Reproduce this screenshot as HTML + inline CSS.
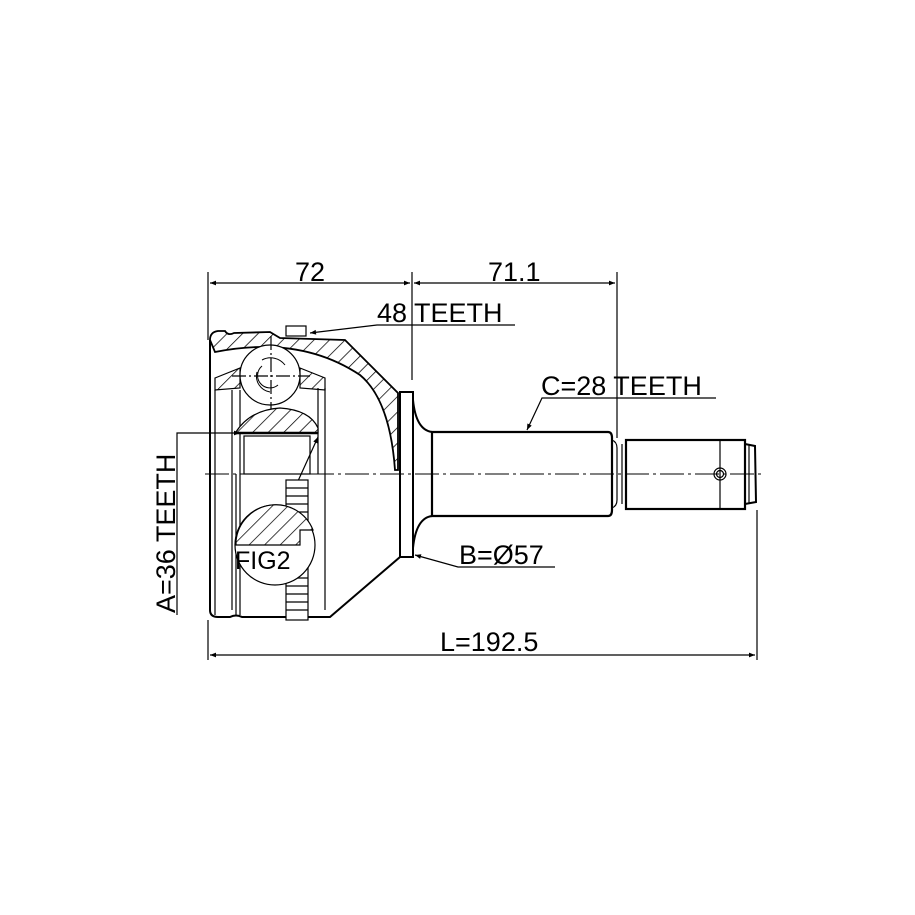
<!DOCTYPE html>
<html><head><meta charset="utf-8"><style>
html,body{margin:0;padding:0;background:#fff;}
svg{display:block;}
text{font-family:"Liberation Sans",sans-serif;fill:#000;}
</style></head><body>
<svg width="915" height="915" viewBox="0 0 915 915" xmlns="http://www.w3.org/2000/svg">
<defs>
<pattern id="h" patternUnits="userSpaceOnUse" width="11" height="11" patternTransform="rotate(45)">
<rect width="11" height="11" fill="#fff"/><line x1="0" y1="0" x2="0" y2="11" stroke="#000" stroke-width="1.5"/>
</pattern>
<marker id="a" viewBox="0 0 10 10" refX="10" refY="5" markerWidth="14" markerHeight="6" markerUnits="userSpaceOnUse" orient="auto-start-reverse"><path d="M0,1 L10,5 L0,9 z" fill="#000"/></marker>
</defs>
<g stroke="#000" fill="none" stroke-width="1.2">
<line x1="208" y1="272" x2="208" y2="340"/>
<line x1="412" y1="272" x2="412" y2="380"/>
<line x1="617" y1="272" x2="617" y2="438"/>
<line x1="210" y1="283" x2="410" y2="283" marker-start="url(#a)" marker-end="url(#a)"/>
<line x1="414" y1="283" x2="615" y2="283" marker-start="url(#a)" marker-end="url(#a)"/>
<line x1="208" y1="620" x2="208" y2="660"/>
<line x1="757" y1="510" x2="757" y2="660"/>
<line x1="210" y1="655" x2="755" y2="655" marker-start="url(#a)" marker-end="url(#a)"/>
<polyline points="515,325 377,325 310,333" marker-end="url(#a)"/>
<polyline points="716,398 542,398 527,430" marker-end="url(#a)"/>
<polyline points="555,567 458,567 415,555" marker-end="url(#a)"/>
<polyline points="177,615 177,433 240,433" marker-end="url(#a)"/>
<line x1="318" y1="437" x2="288" y2="503" marker-start="url(#a)"/>
<!-- housing hatched wall -->
<path d="M210,340 Q210,332 218,331 L225,331 Q228,336 234,333 L270,332 L280,338 L345,340 L398,393 L398,470 L395,470 Q390,400 360,375 Q300,335 215,352 Z" fill="url(#h)" stroke-width="1.8"/>
<path d="M215,378 L240,368 L240,388 L215,390 Z M300,368 L325,378 L325,390 L300,388 Z" fill="url(#h)"/>
<path d="M210,340 L210,610 Q210,617 218,617 L230,617 Q236,614 242,617 L330,617 L400,557 L400,392" stroke-width="2"/>
<rect x="400" y="392" width="13" height="165" stroke-width="2"/>
<path d="M413,400 Q416,430 432,432 M413,548 Q416,518 432,516" stroke-width="2"/>
<rect x="286" y="326" width="20" height="10" fill="#fff"/>
<line x1="215" y1="390" x2="215" y2="615"/>
<line x1="232" y1="390" x2="232" y2="610"/>
<line x1="240" y1="390" x2="240" y2="615"/>
<line x1="325" y1="388" x2="325" y2="610"/>
<line x1="318" y1="388" x2="318" y2="474"/>
<line x1="236" y1="474" x2="236" y2="615"/>
<line x1="205" y1="474" x2="765" y2="474" stroke-dasharray="24,4,3,4" stroke-width="1"/>
<circle cx="270" cy="375" r="30" fill="#fff"/>
<path d="M262,366 A12,12 0 0 0 278,385 M257,372 A16,16 0 0 0 270,392 M262,360 A18,18 0 0 1 285,365" stroke-width="1"/>
<line x1="232" y1="376" x2="310" y2="376" stroke-dasharray="14,3,2,3"/>
<line x1="271" y1="336" x2="271" y2="412" stroke-dasharray="14,3,2,3"/>
<path d="M236,432 Q250,410 280,408 Q310,410 318,428 L318,433 L236,433 Z" fill="url(#h)"/>
<line x1="236" y1="433" x2="318" y2="433" stroke-width="2.5"/>
<rect x="244" y="436" width="66" height="38"/>
<rect x="286" y="480" width="22" height="140" fill="#fff"/>
<path d="M286,488 H308 M286,496 H308 M286,504 H308 M286,512 H308 M286,520 H308 M286,528 H308 M286,578 H308 M286,586 H308 M286,594 H308 M286,602 H308 M286,610 H308"/>
<circle cx="275" cy="545" r="40" fill="#fff"/>
<path d="M236,545 L300,545 L300,530 L313,530 A40,40 0 0 0 236,541 Z" fill="url(#h)"/>
<path d="M432,432 L608,432 Q612,432 612,438 L612,510 Q612,516 608,516 L432,516 Z" stroke-width="2.2"/>
<path d="M612,440 Q617,442 617,448 L617,500 Q617,506 612,508"/>
<line x1="622" y1="444" x2="622" y2="504"/>
<rect x="626" y="440" width="119" height="69" stroke-width="2.2"/>
<line x1="720" y1="440" x2="720" y2="509"/>
<path d="M745,444 L755,446 L756,502 L745,504" stroke-width="2"/>
<line x1="749" y1="445" x2="749" y2="503"/>
<circle cx="720" cy="474" r="6"/>
<circle cx="720" cy="474" r="3.5"/>
</g>
<g font-size="27">
<text x="295" y="281">72</text>
<text x="488" y="281">71.1</text>
<text x="377" y="322">48 TEETH</text>
<text x="541" y="395">C=28 TEETH</text>
<text x="459" y="564">B=Ø57</text>
<text x="440" y="651">L=192.5</text>
<text x="235" y="569" font-size="25">FIG2</text>
<text transform="translate(175,613) rotate(-90)">A=36 TEETH</text>
</g>
</svg>
</body></html>
